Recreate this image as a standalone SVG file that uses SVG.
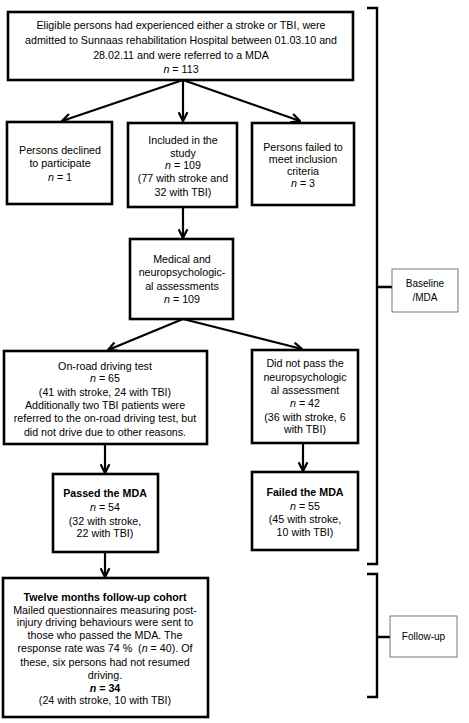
<svg xmlns="http://www.w3.org/2000/svg" width="469" height="723" viewBox="0 0 469 723">
<style>
text{font-family:"Liberation Sans",Arial,sans-serif;font-size:10.7px;fill:#000;text-anchor:middle}
.b{fill:#fff;stroke:#000;stroke-width:2.6}
.lb{fill:#fff;stroke:#555;stroke-width:0.8}
.c{fill:none;stroke:#000;stroke-width:2.2}
.br{fill:none;stroke:#000;stroke-width:2.4}
.bold{font-weight:bold}
.i{font-style:italic}
.s{font-size:10px}
</style>
<defs>
<marker id="ah" viewBox="0 0 10 10" refX="9" refY="5" markerWidth="5" markerHeight="5" orient="auto" markerUnits="strokeWidth">
<path d="M1,1 L9,5 L1,9" fill="none" stroke="#000" stroke-width="2"/>
</marker>
</defs>
<g id="connectors">
<line class="c" x1="183" y1="80" x2="62" y2="121" marker-end="url(#ah)"/>
<line class="c" x1="183" y1="80" x2="183" y2="121" marker-end="url(#ah)"/>
<line class="c" x1="183" y1="80" x2="300" y2="121" marker-end="url(#ah)"/>
<line class="c" x1="183" y1="207" x2="183" y2="238" marker-end="url(#ah)"/>
<line class="c" x1="183" y1="319" x2="108" y2="350" marker-end="url(#ah)"/>
<line class="c" x1="183" y1="319" x2="302" y2="349" marker-end="url(#ah)"/>
<line class="c" x1="105" y1="444" x2="105" y2="473" marker-end="url(#ah)"/>
<line class="c" x1="303" y1="443" x2="303" y2="471" marker-end="url(#ah)"/>
<line class="c" x1="105" y1="552" x2="105" y2="577" marker-end="url(#ah)"/>
</g>
<g id="top">
<rect class="b" x="8" y="12" width="345" height="68"/>
<text x="181" y="29">Eligible persons had experienced either a stroke or TBI, were</text>
<text x="181" y="44">admitted to Sunnaas rehabilitation Hospital between 01.03.10 and</text>
<text x="181" y="59">28.02.11 and were referred to a MDA</text>
<text x="181" y="73"><tspan class="i">n</tspan> = 113</text>
</g>
<g id="declined">
<rect class="b" x="7" y="122" width="105" height="82"/>
<text x="60" y="154">Persons declined</text>
<text x="60" y="167">to participate</text>
<text x="60" y="181"><tspan class="i">n</tspan> = 1</text>
</g>
<g id="included">
<rect class="b" x="128" y="123" width="109" height="84"/>
<text x="183" y="144">Included in the</text>
<text x="183" y="157">study</text>
<text x="183" y="169"><tspan class="i">n</tspan> = 109</text>
<text x="183" y="182">(77 with stroke and</text>
<text x="183" y="196">32 with TBI)</text>
</g>
<g id="failedcriteria">
<rect class="b" x="252" y="123" width="102" height="82"/>
<text x="303" y="151">Persons failed to</text>
<text x="303" y="163">meet inclusion</text>
<text x="303" y="175">criteria</text>
<text x="303" y="187"><tspan class="i">n</tspan> = 3</text>
</g>
<g id="medical">
<rect class="b" x="130" y="239" width="103" height="80"/>
<text x="182" y="263">Medical and</text>
<text x="182" y="276">neuropsychologic-</text>
<text x="182" y="290">al assessments</text>
<text x="182" y="303"><tspan class="i">n</tspan> = 109</text>
</g>
<g id="onroad">
<rect class="b" x="4" y="351" width="203" height="93"/>
<text x="105" y="370">On-road driving test</text>
<text x="105" y="382"><tspan class="i">n</tspan> = 65</text>
<text x="105" y="396">(41 with stroke, 24 with TBI)</text>
<text x="105" y="409">Additionally two TBI patients were</text>
<text x="105" y="422">referred to the on-road driving test, but</text>
<text x="105" y="436">did not drive due to other reasons.</text>
</g>
<g id="didnotpass">
<rect class="b" x="252" y="350" width="106" height="93"/>
<text x="305" y="367">Did not pass the</text>
<text x="305" y="381">neuropsychologic</text>
<text x="305" y="394">al assessment</text>
<text x="305" y="407"><tspan class="i">n</tspan> = 42</text>
<text x="305" y="421">(36 with stroke, 6</text>
<text x="305" y="433">with TBI)</text>
</g>
<g id="passed">
<rect class="b" x="53" y="474" width="105" height="78"/>
<text x="105" y="497" class="bold">Passed the MDA</text>
<text x="105" y="511"><tspan class="i">n</tspan> = 54</text>
<text x="105" y="525">(32 with stroke,</text>
<text x="105" y="537">22 with TBI)</text>
</g>
<g id="failed">
<rect class="b" x="252" y="472" width="106" height="78"/>
<text x="305" y="496" class="bold">Failed the MDA</text>
<text x="305" y="510"><tspan class="i">n</tspan> = 55</text>
<text x="305" y="523">(45 with stroke,</text>
<text x="305" y="536">10 with TBI)</text>
</g>
<g id="followup">
<rect class="b" x="3" y="578" width="205" height="139"/>
<text x="105" y="601" class="bold">Twelve months follow-up cohort</text>
<text x="105" y="614">Mailed questionnaires measuring post-</text>
<text x="105" y="626">injury driving behaviours were sent to</text>
<text x="105" y="639">those who passed the MDA. The</text>
<text x="105" y="652">response rate was 74 %&#160; (<tspan class="i">n</tspan> = 40). Of</text>
<text x="105" y="666">these, six persons had not resumed</text>
<text x="105" y="679">driving.</text>
<text x="105" y="692" class="bold"><tspan class="i">n</tspan> = 34</text>
<text x="105" y="704">(24 with stroke, 10 with TBI)</text>
</g>
<g id="baseline-bracket">
<path class="br" d="M367,8 H377 V564 H367 M377,287 H392"/>
<rect class="lb" x="392" y="269" width="66" height="43"/>
<text x="425" y="287" class="s">Baseline</text>
<text x="425" y="301" class="s">/MDA</text>
</g>
<g id="followup-bracket">
<path class="br" d="M367,574 H377 V697 H367 M377,637 H390"/>
<rect class="lb" x="390" y="616" width="67" height="41"/>
<text x="423.5" y="640" class="s">Follow-up</text>
</g>
</svg>
